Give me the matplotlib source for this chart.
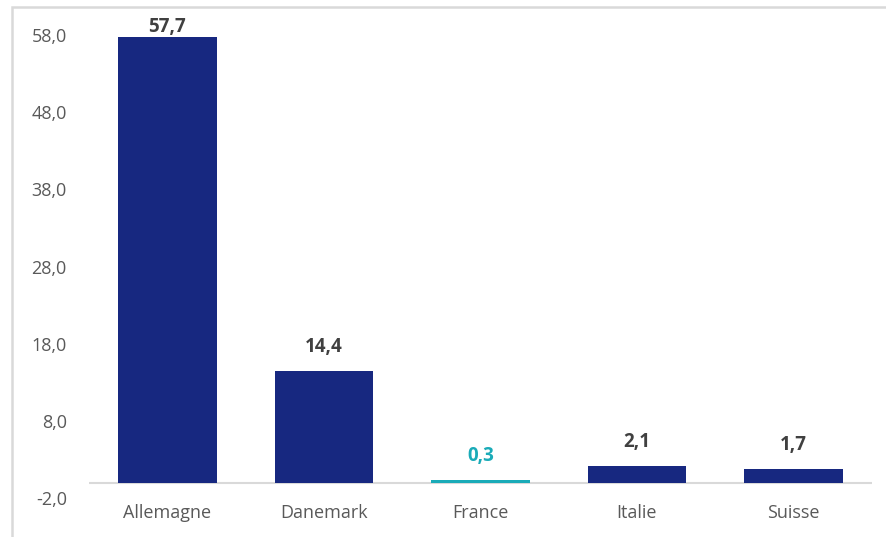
import matplotlib.pyplot as plt
from matplotlib.patches import Rectangle

pays = ['Allemagne', 'Danemark', 'France', 'Italie', 'Suisse']
valeurs = [57.7, 14.4, 0.3, 2.1, 1.7]
couleurs = ['#172880', '#172880', '#1AABB8', '#172880', '#172880']
couleurs_etiq = ['#404040', '#404040', '#1AABB8', '#404040', '#404040']
yticks = [-2, 8, 18, 28, 38, 48, 58]

plt.rcParams['font.family'] = ['Open Sans', 'DejaVu Sans']

fig = plt.figure(figsize=(8.86, 5.37), dpi=100)
ax = fig.add_axes([0.1005, 0.0726, 0.8835, 0.8622])

x = range(len(pays))
ax.bar(x, valeurs, width=0.63, color=couleurs)

for i, v in enumerate(valeurs):
    # etiquette au-dessus de la barre, bloquee en haut de la zone
    ax.text(i, min(v + 3.2, 59.1), f'{v:.1f}'.replace('.', ','), ha='center', va='center',
            fontsize=13.5, fontweight='bold', color=couleurs_etiq[i], clip_on=False)

ax.set_xlim(-0.5, len(pays) - 0.5)
ax.set_ylim(-2, 58)
ax.set_yticks(yticks)
ax.set_yticklabels([f'{t:.1f}'.replace('.', ',') for t in yticks])
ax.set_xticks(list(x))
ax.set_xticklabels(pays)
ax.tick_params(axis='both', length=0, labelsize=13, labelcolor='#595959')
ax.tick_params(axis='x', pad=4)
ax.tick_params(axis='y', pad=16)

for s in ['top', 'right', 'left', 'bottom']:
    ax.spines[s].set_visible(False)
ax.axhline(0, color='#D9D9D9', linewidth=1.5, zorder=0)

# cadre gris autour du graphique
fig.patches.append(Rectangle((12 / 886, -0.01), 1.0, 1 - 7 / 537 + 0.01,
                             transform=fig.transFigure, fill=False,
                             edgecolor='#D9D9D9', linewidth=1.8))

fig.savefig('out.png', dpi=100)
